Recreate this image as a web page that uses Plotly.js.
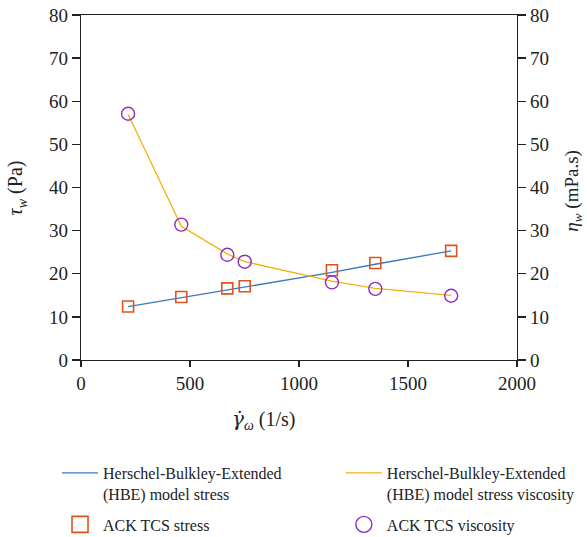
<!DOCTYPE html>
<html>
<head>
<meta charset="utf-8">
<script src="https://cdn.plot.ly/plotly-3.0.1.min.js"></script>
<style>html,body{margin:0;padding:0;background:#fff;}#chart{width:587px;height:537px;}</style>
</head>
<body>
<div id="chart"></div>
<script>
// Shear rate (1/s)
var shearRate = [216, 460, 671, 751, 1151, 1350, 1698];
// ACK TCS measured stress (Pa)
var tcsStress = [12.4, 14.6, 16.6, 17.1, 20.8, 22.5, 25.3];
// HBE model stress (Pa)
var hbeStress = [12.4, 14.5, 16.3, 16.9, 20.3, 22.2, 25.3];
// ACK TCS measured viscosity (mPa.s)
var tcsVisc = [57.1, 31.4, 24.4, 22.8, 18.0, 16.5, 14.9];
// HBE model viscosity (mPa.s)
var hbeVisc = [57.0, 31.0, 24.6, 22.8, 18.3, 16.6, 15.0];
var xTicks = [0, 500, 1000, 1500, 2000];
var yTicks = [0, 10, 20, 30, 40, 50, 60, 70, 80];
var legendNames = [
  'Herschel-Bulkley-Extended<br>(HBE) model stress',
  'Herschel-Bulkley-Extended<br>(HBE) model stress viscosity',
  'ACK TCS stress',
  'ACK TCS viscosity'
];

var FONT = 'Liberation Serif, Times New Roman, serif';
var BLUE = '#3a78bf', YELLOW = '#f2b10e', ORANGE = '#e0531f', PURPLE = '#8b2fc0';

var traces = [
  {x: shearRate, y: hbeStress, mode: 'lines', name: legendNames[0], legend: 'legend', legendgroup: 'a',
   line: {color: BLUE, width: 1.3}, xaxis: 'x', yaxis: 'y'},
  {x: shearRate, y: hbeVisc, mode: 'lines', name: legendNames[1], legend: 'legend2', legendgroup: 'b',
   line: {color: YELLOW, width: 1.3}, xaxis: 'x', yaxis: 'y2'},
  {x: shearRate, y: tcsStress, mode: 'markers', name: legendNames[2], showlegend: false,
   marker: {symbol: 'square-open', size: 11, color: ORANGE, line: {width: 1.6, color: ORANGE}},
   xaxis: 'x', yaxis: 'y'},
  {x: shearRate, y: tcsVisc, mode: 'markers', name: legendNames[3], showlegend: false,
   marker: {symbol: 'circle-open', size: 13, color: PURPLE, line: {width: 1.4, color: PURPLE}},
   xaxis: 'x', yaxis: 'y2'},
  // legend entries for the marker series (larger symbols as in the original legend)
  {x: [null], y: [null], mode: 'markers', name: legendNames[2], legend: 'legend', legendgroup: 'c',
   marker: {symbol: 'square-open', size: 16, color: ORANGE, line: {width: 1.6, color: ORANGE}},
   xaxis: 'x', yaxis: 'y', hoverinfo: 'skip'},
  {x: [null], y: [null], mode: 'markers', name: legendNames[3], legend: 'legend2', legendgroup: 'd',
   marker: {symbol: 'circle-open', size: 16, color: PURPLE, line: {width: 1.4, color: PURPLE}},
   xaxis: 'x', yaxis: 'y2', hoverinfo: 'skip'}
];

var axisCommon = {
  showline: true, linecolor: '#222', linewidth: 1.3,
  ticks: 'outside', tickcolor: '#222', tickwidth: 1.3,
  showgrid: false, zeroline: false,
  tickfont: {family: FONT, size: 19, color: '#222'}
};

var legendCommon = {
  orientation: 'v', xanchor: 'left', y: -0.278, yanchor: 'top',
  valign: 'top', traceorder: 'grouped', tracegroupgap: 7, itemwidth: 36,
  font: {family: FONT, size: 16, color: '#222'},
  bgcolor: 'rgba(0,0,0,0)', borderwidth: 0
};

var layout = {
  width: 587, height: 537,
  margin: {l: 81, r: 70, t: 15, b: 177, autoexpand: false},
  paper_bgcolor: '#fff', plot_bgcolor: '#fff',
  font: {family: FONT, color: '#222'},
  showlegend: true,
  xaxis: Object.assign({}, axisCommon, {
    range: [0, 2000], tickvals: xTicks, ticklen: 6, mirror: true
  }),
  yaxis: Object.assign({}, axisCommon, {
    range: [0, 80], tickvals: yTicks, ticklen: 8
  }),
  yaxis2: Object.assign({}, axisCommon, {
    range: [0, 80], tickvals: yTicks, ticklen: 8, overlaying: 'y', side: 'right'
  }),
  legend: Object.assign({}, legendCommon, {x: -0.055}),
  legend2: Object.assign({}, legendCommon, {x: 0.596}),
  annotations: [
    {xref: 'paper', yref: 'paper', x: -0.147, y: 0.5, xanchor: 'center', yanchor: 'middle',
     textangle: -90, showarrow: false,
     text: '<i>τ</i><sub><i>w</i></sub> (Pa)', font: {family: FONT, size: 20, color: '#222'}},
    {xref: 'paper', yref: 'paper', x: 1.128, y: 0.49, xanchor: 'center', yanchor: 'middle',
     textangle: -90, showarrow: false,
     text: '<i>η</i><sub><i>w</i></sub> (mPa.s)', font: {family: FONT, size: 19, color: '#222'}},
    {xref: 'paper', yref: 'paper', x: 0.42, y: -0.174, xanchor: 'center', yanchor: 'middle',
     showarrow: false,
     text: '<span style="font-family:\'DejaVu Serif\'"><i>γ̇</i></span><sub><i>ω</i></sub> (1/s)',
     font: {family: FONT, size: 20, color: '#222'}}
  ]
};

Plotly.newPlot('chart', traces, layout, {displayModeBar: false, staticPlot: true});
</script>
</body>
</html>
